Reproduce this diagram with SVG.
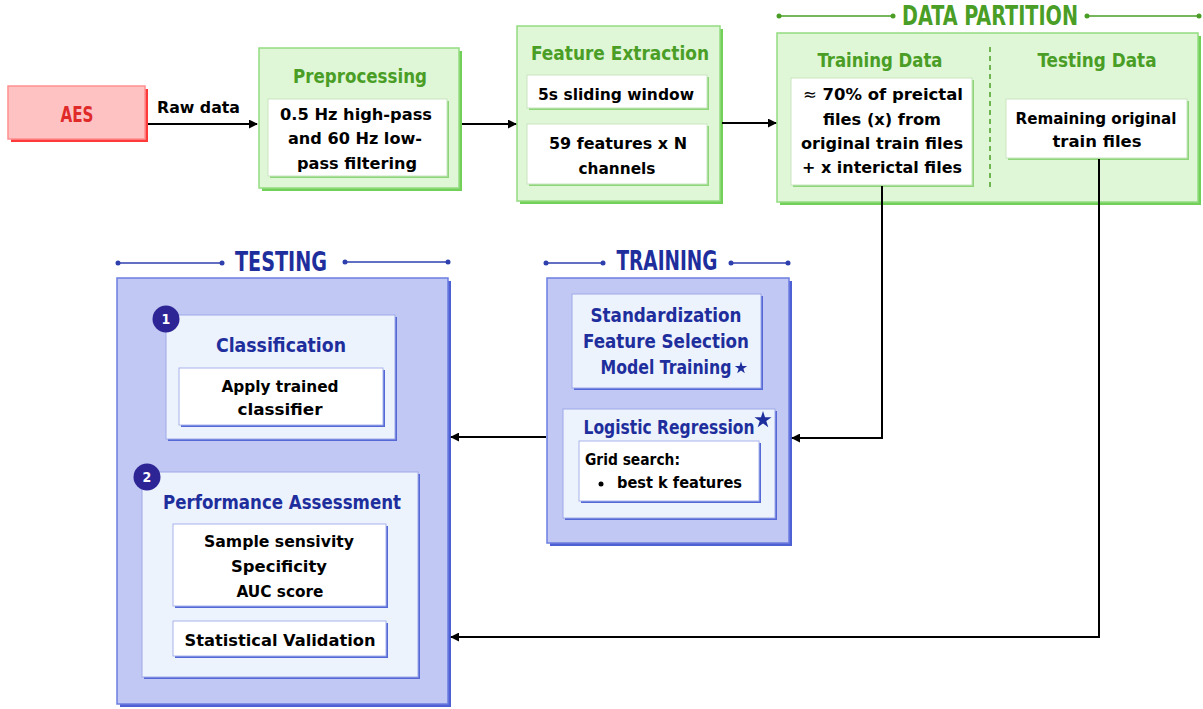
<svg xmlns="http://www.w3.org/2000/svg" width="1203" height="709" viewBox="0 0 1203 709">
  <defs>
    <marker id="arrow" viewBox="0 0 10 10" refX="9" refY="5" markerWidth="4.5" markerHeight="4.5" orient="auto" markerUnits="strokeWidth">
      <path d="M0,0 L10,5 L0,10 Z" fill="#000"/>
    </marker>
    <!-- unit five-point star, scaled where used -->
    <path id="star" d="M0,-1 L0.2245,-0.309 L0.951,-0.309 L0.363,0.118 L0.588,0.809 L0,0.382 L-0.588,0.809 L-0.363,0.118 L-0.951,-0.309 L-0.2245,-0.309 Z"/>
    <style>
      text { font-family: "DejaVu Sans Condensed", "DejaVu Sans", sans-serif; font-weight: bold; }
      .body { font-size: 16px; fill: #000; }
      .gtitle { font-size: 19px; fill: #4a9e26; }
      .btitle { font-size: 19px; fill: #1e2e9c; }
      .ghead { font-size: 26px; fill: #4a9e26; }
      .bhead { font-size: 26px; fill: #1e2e9c; }
      .mid { text-anchor: middle; }
      .gbox { fill: #dff7d6; stroke: #93dc80; stroke-width: 1.5; }
      .gshadow { fill: #72cf58; }
      .wbox { fill: #fff; stroke: #c9e6c0; stroke-width: 1; }
      .wshadow-g { fill: #8fd67a; }
      .obox { fill: #c1c8f3; stroke: #6c7ddf; stroke-width: 1.5; }
      .oshadow { fill: #4d60d4; }
      .ibox { fill: #edf3fd; stroke: #9eaae8; stroke-width: 1; }
      .ishadow { fill: #5568d6; }
      .wbox-b { fill: #fff; stroke: #a8b3ea; stroke-width: 1; }
      .conn { fill: none; stroke: #000; stroke-width: 2; }
      .gline { stroke: #4a9e26; stroke-width: 1.5; }
      .bline { stroke: #2e3fae; stroke-width: 1.5; }
      .gdot { fill: #4a9e26; }
      .bdot { fill: #2e3fae; }
      .badge { fill: #2d2595; }
      .badge-t { font-size: 14px; fill: #fff; text-anchor: middle; }
      .star { fill: #1e2e9c; }
    </style>
  </defs>

  <!-- Source -->
  <g id="aes">
    <rect x="11" y="89" width="137" height="53" fill="#ff3a3a"/>
    <rect x="8" y="86" width="137" height="53" fill="#ffc2c2" stroke="#ff9090" stroke-width="1.5"/>
    <text x="77" y="122" class="mid" font-size="21" fill="#e02a2a" textLength="33" lengthAdjust="spacingAndGlyphs">AES</text>
  </g>

  <!-- Preprocessing -->
  <g id="preprocessing">
    <rect x="262" y="51" width="200" height="140" class="gshadow"/>
    <rect x="259" y="48" width="200" height="140" class="gbox"/>
    <text x="360" y="83" class="gtitle mid" textLength="134" lengthAdjust="spacingAndGlyphs">Preprocessing</text>
    <rect x="270" y="101" width="179" height="77" class="wshadow-g"/>
    <rect x="268" y="99" width="179" height="77" class="wbox"/>
    <text x="356" y="120" class="body mid" textLength="152" lengthAdjust="spacingAndGlyphs">0.5 Hz high-pass</text>
    <text x="355" y="144" class="body mid" textLength="134" lengthAdjust="spacingAndGlyphs">and 60 Hz low-</text>
    <text x="357" y="169" class="body mid" textLength="120" lengthAdjust="spacingAndGlyphs">pass filtering</text>
  </g>

  <!-- Feature extraction -->
  <g id="feature-extraction">
    <rect x="520" y="29" width="203" height="175" class="gshadow"/>
    <rect x="517" y="26" width="203" height="175" class="gbox"/>
    <text x="620" y="60" class="gtitle mid" textLength="178" lengthAdjust="spacingAndGlyphs">Feature Extraction</text>
    <rect x="529" y="77" width="180" height="33" class="wshadow-g"/>
    <rect x="527" y="75" width="180" height="33" class="wbox"/>
    <text x="616" y="100" class="body mid" textLength="156" lengthAdjust="spacingAndGlyphs">5s sliding window</text>
    <rect x="529" y="126" width="180" height="60" class="wshadow-g"/>
    <rect x="527" y="124" width="180" height="60" class="wbox"/>
    <text x="618" y="149" class="body mid" textLength="138" lengthAdjust="spacingAndGlyphs">59 features x N</text>
    <text x="617" y="174" class="body mid" textLength="77" lengthAdjust="spacingAndGlyphs">channels</text>
  </g>

  <!-- Data partition -->
  <g id="data-partition">
    <line x1="779" y1="16" x2="893" y2="16" class="gline"/>
    <circle cx="779" cy="16" r="2.5" class="gdot"/>
    <circle cx="893" cy="16" r="2.5" class="gdot"/>
    <line x1="1087" y1="16" x2="1199" y2="16" class="gline"/>
    <circle cx="1087" cy="16" r="2.5" class="gdot"/>
    <circle cx="1199" cy="16" r="2.5" class="gdot"/>
    <text x="990" y="25" class="ghead mid" textLength="176" lengthAdjust="spacingAndGlyphs">DATA PARTITION</text>
    <rect x="780" y="36" width="421" height="169" class="gshadow"/>
    <rect x="777" y="33" width="421" height="169" class="gbox"/>
    <line x1="990" y1="47" x2="990" y2="187" stroke="#4a9e26" stroke-width="1.5" stroke-dasharray="5,4"/>
    <text x="880" y="67" class="gtitle mid" textLength="125" lengthAdjust="spacingAndGlyphs">Training Data</text>
    <text x="1097" y="67" class="gtitle mid" textLength="119" lengthAdjust="spacingAndGlyphs">Testing Data</text>
    <rect x="793" y="80" width="181" height="107" class="wshadow-g"/>
    <rect x="791" y="78" width="181" height="107" class="wbox"/>
    <text x="883" y="100" class="body mid" textLength="160" lengthAdjust="spacingAndGlyphs"><tspan font-weight="normal">≈</tspan> 70% of preictal</text>
    <text x="882" y="125" class="body mid" textLength="118" lengthAdjust="spacingAndGlyphs">files (x) from</text>
    <text x="882" y="149" class="body mid" textLength="162" lengthAdjust="spacingAndGlyphs">original train files</text>
    <text x="882" y="173" class="body mid" textLength="160" lengthAdjust="spacingAndGlyphs">+ x interictal files</text>
    <rect x="1008" y="101" width="181" height="59" class="wshadow-g"/>
    <rect x="1006" y="99" width="181" height="59" class="wbox"/>
    <text x="1096" y="124" class="body mid" textLength="161" lengthAdjust="spacingAndGlyphs">Remaining original</text>
    <text x="1097" y="147" class="body mid" textLength="89" lengthAdjust="spacingAndGlyphs">train files</text>
  </g>

  <!-- Training -->
  <g id="training">
    <line x1="546" y1="263" x2="603" y2="263" class="bline"/>
    <circle cx="546" cy="263" r="2.5" class="bdot"/>
    <circle cx="603" cy="263" r="2.5" class="bdot"/>
    <line x1="731" y1="263" x2="788" y2="263" class="bline"/>
    <circle cx="731" cy="263" r="2.5" class="bdot"/>
    <circle cx="788" cy="263" r="2.5" class="bdot"/>
    <text x="667" y="270" class="bhead mid" textLength="101" lengthAdjust="spacingAndGlyphs">TRAINING</text>
    <rect x="550" y="281" width="242" height="265" class="oshadow"/>
    <rect x="547" y="278" width="242" height="265" class="obox"/>
    <rect x="574" y="296" width="189" height="94" class="ishadow"/>
    <rect x="572" y="294" width="189" height="94" class="ibox"/>
    <text x="666" y="322" class="btitle mid" textLength="151" lengthAdjust="spacingAndGlyphs">Standardization</text>
    <text x="666" y="348" class="btitle mid" textLength="166" lengthAdjust="spacingAndGlyphs">Feature Selection</text>
    <text x="666" y="374" class="btitle mid" textLength="131" lengthAdjust="spacingAndGlyphs">Model Training</text>
    <use href="#star" class="star" transform="translate(741,368) scale(6.5)"/>
    <rect x="565" y="411" width="212" height="109" class="ishadow"/>
    <rect x="563" y="409" width="212" height="109" class="ibox"/>
    <text x="669" y="434" class="btitle mid" textLength="171" lengthAdjust="spacingAndGlyphs">Logistic Regression</text>
    <use href="#star" class="star" transform="translate(763,420) scale(9)"/>
    <rect x="581" y="443" width="180" height="60" class="ishadow"/>
    <rect x="579" y="441" width="180" height="60" class="wbox-b"/>
    <text x="585" y="465" class="body" textLength="95" lengthAdjust="spacingAndGlyphs">Grid search:</text>
    <circle cx="601" cy="484" r="2.5" fill="#000"/>
    <text x="617" y="488" class="body" textLength="125" lengthAdjust="spacingAndGlyphs">best k features</text>
  </g>

  <!-- Testing -->
  <g id="testing">
    <line x1="118" y1="263" x2="222" y2="263" class="bline"/>
    <circle cx="118" cy="263" r="2.5" class="bdot"/>
    <circle cx="222" cy="263" r="2.5" class="bdot"/>
    <line x1="345" y1="262" x2="448" y2="262" class="bline"/>
    <circle cx="345" cy="262" r="2.5" class="bdot"/>
    <circle cx="448" cy="262" r="2.5" class="bdot"/>
    <text x="281" y="271" class="bhead mid" textLength="92" lengthAdjust="spacingAndGlyphs">TESTING</text>
    <rect x="120" y="281" width="331" height="426" class="oshadow"/>
    <rect x="117" y="278" width="331" height="426" class="obox"/>

    <g id="classification">
      <rect x="168" y="317" width="229" height="124" class="ishadow"/>
      <rect x="166" y="315" width="229" height="124" class="ibox"/>
      <circle cx="166" cy="319" r="13.5" class="badge"/>
      <text x="166" y="324" class="badge-t">1</text>
      <text x="281" y="352" class="btitle mid" textLength="130" lengthAdjust="spacingAndGlyphs">Classification</text>
      <rect x="181" y="370" width="204" height="57" class="ishadow"/>
      <rect x="179" y="368" width="204" height="57" class="wbox-b"/>
      <text x="280" y="392" class="body mid" textLength="117" lengthAdjust="spacingAndGlyphs">Apply trained</text>
      <text x="280" y="415" class="body mid" textLength="85" lengthAdjust="spacingAndGlyphs">classifier</text>
    </g>

    <g id="performance">
      <rect x="144" y="474" width="276" height="205" class="ishadow"/>
      <rect x="142" y="472" width="276" height="205" class="ibox"/>
      <circle cx="147" cy="477" r="13.5" class="badge"/>
      <text x="147" y="482" class="badge-t">2</text>
      <text x="282" y="509" class="btitle mid" textLength="238" lengthAdjust="spacingAndGlyphs">Performance Assessment</text>
      <rect x="175" y="526" width="213" height="82" class="ishadow"/>
      <rect x="173" y="524" width="213" height="82" class="wbox-b"/>
      <text x="279" y="547" class="body mid" textLength="150" lengthAdjust="spacingAndGlyphs">Sample sensivity</text>
      <text x="279" y="572" class="body mid" textLength="96" lengthAdjust="spacingAndGlyphs">Specificity</text>
      <text x="280" y="597" class="body mid" textLength="87" lengthAdjust="spacingAndGlyphs">AUC score</text>
      <rect x="175" y="623" width="213" height="35" class="ishadow"/>
      <rect x="173" y="621" width="213" height="35" class="wbox-b"/>
      <text x="280" y="646" class="body mid" textLength="191" lengthAdjust="spacingAndGlyphs">Statistical Validation</text>
    </g>
  </g>

  <!-- Connectors -->
  <g id="connectors">
    <text x="157" y="113" class="body" font-size="17" textLength="83" lengthAdjust="spacingAndGlyphs">Raw data</text>
    <line x1="148" y1="124" x2="257" y2="124" class="conn" marker-end="url(#arrow)"/>
    <line x1="462" y1="124" x2="516" y2="124" class="conn" marker-end="url(#arrow)"/>
    <line x1="722" y1="123" x2="776" y2="123" class="conn" marker-end="url(#arrow)"/>
    <path d="M882,186 V438 H792" class="conn" marker-end="url(#arrow)"/>
    <path d="M1099,159 V637 H451" class="conn" marker-end="url(#arrow)"/>
    <line x1="546" y1="437" x2="451" y2="437" class="conn" marker-end="url(#arrow)"/>
  </g>
</svg>
